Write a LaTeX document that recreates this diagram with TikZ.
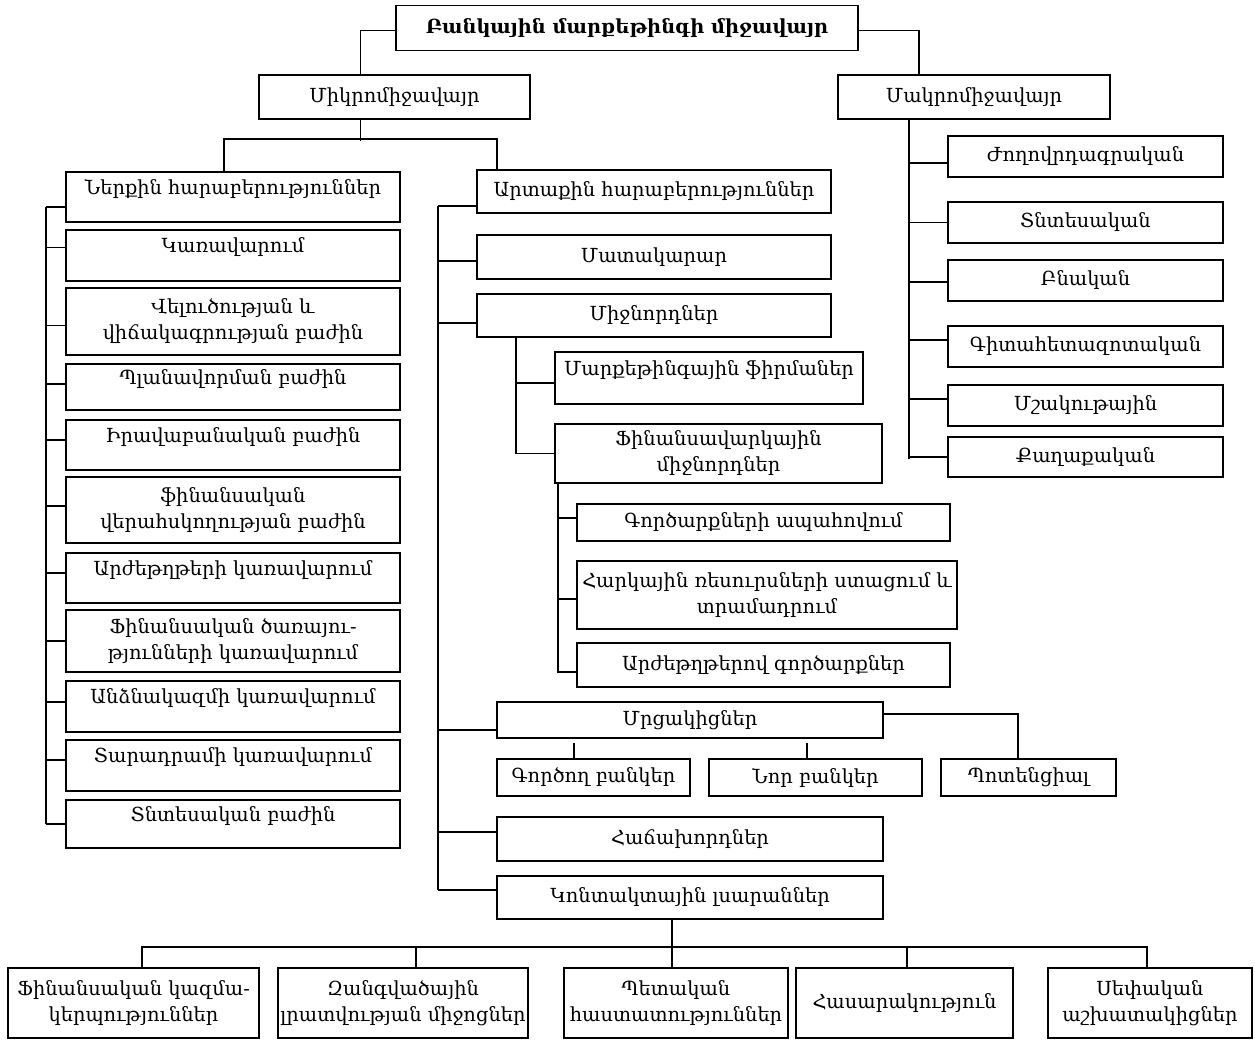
\documentclass[tikz,border=0pt]{standalone}
\usepackage{fontspec}
\setmainfont{DejaVu Serif}
\usetikzlibrary{positioning}

\begin{document}
\begin{tikzpicture}[
    x=0.5pt, y=-0.5pt,
    line width=0.9pt,
    box/.style={draw,rectangle,inner sep=1pt,align=center,
      font=\fontsize{9.7}{13}\selectfont},
    raised/.style={text height=7pt,text depth=10pt}
  ]
    \useasboundingbox (0,0) rectangle (1255,1041);

    % top levels
    \node[box,minimum width=231pt,minimum height=22.5pt,font=\fontsize{9.7}{13}\selectfont\bfseries] (top) at (627,28) {Բանկային մարքեթինգի միջավայր};
    \node[box,minimum width=135.5pt,minimum height=22pt] (mik) at (394.5,97) {Միկրոմիջավայր};
    \node[box,minimum width=136pt,minimum height=22pt] (mak) at (974,97) {Մակրոմիջավայր};

    % inner relations
    \node[box,raised,minimum width=167pt,minimum height=25pt] (nerq) at (233,197) {Ներքին հարաբերություններ};
    \node[box,raised,minimum width=167pt,minimum height=25.5pt] (kar) at (233,255.5) {Կառավարում};
    \node[box,minimum width=167pt,minimum height=33.5pt] (verl) at (233,321.5) {Վելուծության և\\վիճակագրության բաժին};
    \node[box,raised,minimum width=167pt,minimum height=23pt] (plan) at (233,387) {Պլանավորման բաժին};
    \node[box,raised,minimum width=167pt,minimum height=25pt] (irav) at (233,445) {Իրավաբանական բաժին};
    \node[box,minimum width=167pt,minimum height=33pt] (finver) at (233,510) {ֆինանսական\\վերահսկողության բաժին};
    \node[box,raised,minimum width=167pt,minimum height=25pt] (arzh) at (233,578) {Արժեթղթերի կառավարում};
    \node[box,minimum width=167pt,minimum height=31pt] (fints) at (233,641) {Ֆինանսական ծառայու-\\թյունների կառավարում};
    \node[box,raised,minimum width=167pt,minimum height=25.5pt] (andz) at (233,706.5) {Անձնակազմի կառավարում};
    \node[box,raised,minimum width=167pt,minimum height=25.5pt] (tarad) at (233,765.5) {Տարադրամի կառավարում};
    \node[box,raised,minimum width=167pt,minimum height=24pt] (tntes) at (233,824) {Տնտեսական բաժին};

    % outer relations
    \node[box,minimum width=177pt,minimum height=21.5pt] (artaq) at (654,191.5) {Արտաքին հարաբերություններ};
    \node[box,minimum width=177pt,minimum height=22pt] (matak) at (654,257) {Մատակարար};
    \node[box,minimum width=177pt,minimum height=21.5pt] (mijn) at (654,315.5) {Միջնորդներ};
    \node[box,raised,minimum width=154pt,minimum height=26pt] (mark) at (709,378) {Մարքեթինգային ֆիրմաներ};
    \node[box,minimum width=163.5pt,minimum height=29.5pt] (finvark) at (718.5,453.5) {Ֆինանսավարկային\\միջնորդներ};
    \node[box,minimum width=186.5pt,minimum height=18.5pt] (gortsarq) at (763.5,522.5) {Գործարքների ապահովում};
    \node[box,minimum width=190pt,minimum height=34pt] (hark) at (767,595) {Հարկային ռեսուրսների ստացում և\\տրամադրում};
    \node[box,minimum width=186.5pt,minimum height=22pt] (arzhg) at (763.5,665) {Արժեթղթերով գործարքներ};
    \node[box,minimum width=193pt,minimum height=18pt] (mrc) at (690,720) {Մրցակիցներ};
    \node[box,minimum width=96.5pt,minimum height=18.5pt] (gbank) at (593.5,777.5) {Գործող բանկեր};
    \node[box,minimum width=106.5pt,minimum height=18.5pt] (nbank) at (815.5,777.5) {Նոր բանկեր};
    \node[box,minimum width=87.5pt,minimum height=18.5pt] (poten) at (1028.5,777.5) {Պոտենցիալ};
    \node[box,minimum width=193pt,minimum height=22pt] (hach) at (690,839) {Հաճախորդներ};
    \node[box,minimum width=193pt,minimum height=21.5pt] (kont) at (690,897.5) {Կոնտակտային լսարաններ};

    % contact audiences
    \node[box,minimum width=125.5pt,minimum height=35pt] (kazm) at (133.5,1003) {Ֆինանսական կազմա-\\կերպություններ};
    \node[box,minimum width=125pt,minimum height=35pt] (zlm) at (403,1003) {Զանգվածային\\լրատվության միջոցներ};
    \node[box,minimum width=112pt,minimum height=35pt] (petak) at (676,1003) {Պետական\\հաստատություններ};
    \node[box,minimum width=108.5pt,minimum height=35pt] (hasar) at (904.5,1003) {Հասարակություն};
    \node[box,minimum width=102pt,minimum height=35pt] (sepak) at (1150,1003) {Սեփական\\աշխատակիցներ};

    % macro environment
    \node[box,minimum width=137.5pt,minimum height=20.5pt] (zhog) at (1085.5,156.5) {Ժողովրդագրական};
    \node[box,minimum width=137.5pt,minimum height=20.5pt] (tnt) at (1085.5,222.5) {Տնտեսական};
    \node[box,minimum width=137.5pt,minimum height=20.5pt] (bnak) at (1085.5,280.5) {Բնական};
    \node[box,minimum width=137.5pt,minimum height=20.5pt] (git) at (1085.5,346.5) {Գիտահետազոտական};
    \node[box,minimum width=137.5pt,minimum height=20.5pt] (mshak) at (1085.5,405.5) {Մշակութային};
    \node[box,minimum width=137.5pt,minimum height=20pt] (qaxaq) at (1085.5,457) {Քաղաքական};

    % connectors
    \draw ([yshift=-1.25pt]top.west) -| ([xshift=-17pt]mik.north);
    \draw ([yshift=-1.25pt]top.east) -| ([xshift=-27.5pt]mak.north);
    \draw ([xshift=-17pt]mik.south) -- ++(0,21);
    \draw ([xshift=-4.5pt]nerq.north) -- ++(0,-32) -| ([xshift=-78.5pt]artaq.north);

    \foreach \n/\d in {nerq/-5,kar/4,verl/-2,plan/1.5,irav/2.5,finver/2,arzh/2.5,fints/0,andz/2.25,tarad/2.75,tntes/0}
      \draw ([yshift=\d pt]\n.west) -- ++(-19,0) coordinate (s-\n);
    \draw (s-nerq) -- (s-tntes);

    \draw ([yshift=-7.25pt]artaq.west) -- ++(-38,0) coordinate (s-artaq);
    \foreach \n/\d in {matak/-2,mijn/-3.75}
      \draw ([yshift=\d pt]\n.west) -- ++(-38,0);
    \foreach \n/\d in {mrc/-5,hach/3.5,kont/3.75}
      \draw ([yshift=\d pt]\n.west) -- ++(-58,0) coordinate (s-\n);
    \draw (s-artaq) -- (s-kont);

    \draw ([xshift=-69pt]mijn.south) |- (finvark.west);
    \draw ([yshift=-2.5pt]mark.west) -- ++(-39,0);
    \draw ([xshift=-80.25pt]finvark.south) |- ([yshift=-3.5pt]arzhg.west);
    \draw ([yshift=2.25pt]gortsarq.west) -- ++(-19,0);
    \draw ([yshift=-2pt]hark.west) -- ++(-19,0);

    \draw ([yshift=3pt]mrc.east) -| ([xshift=-5.25pt]poten.north);
    \draw ([xshift=-9.75pt]gbank.north) -- ++(0,-15);
    \draw ([xshift=-4.25pt]nbank.north) -- ++(0,-15);

    \draw ([xshift=-9pt]kont.south) -- ++(0,29);
    \draw ([xshift=4.25pt]kazm.north) -- ++(0,-20) -| ([xshift=-1.5pt]sepak.north);
    \foreach \n/\d in {zlm/6.5,petak/-2,hasar/1.25}
      \draw ([xshift=\d pt]\n.north) -- ++(0,-20);

    \draw ([xshift=-32.5pt]mak.south) -- ++(0,339);
    \foreach \n/\d in {zhog/-3.25,tnt/0,bnak/-0.75,git/3.25,mshak/3.25,qaxaq/0}
      \draw ([yshift=\d pt]\n.west) -- ++(-39,0);
\end{tikzpicture}
\end{document}
